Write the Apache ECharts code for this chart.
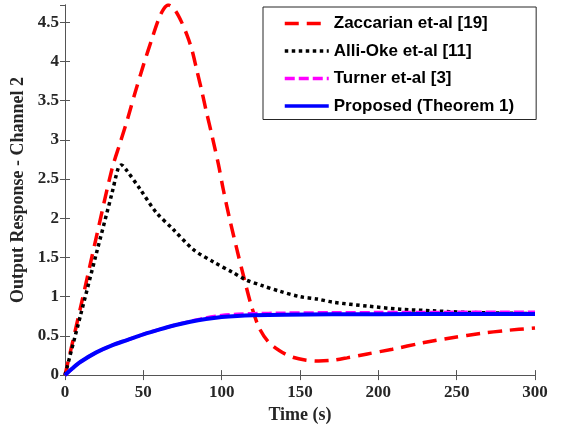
<!DOCTYPE html>
<html style="height: 100%">
<head>
    <meta charset="utf-8">
    <title>Output Response - Channel 2</title>
</head>
<body style="height: 100%; margin: 0;">
    <div id="container" style="width: 562px; height: 429px;"></div>
    <script src="https://cdn.jsdelivr.net/npm/echarts@6/dist/echarts.min.js"></script>
    <script type="text/javascript">
        // legend names
        var names = ['Zaccarian et-al [19]', 'Alli-Oke et-al [11]', 'Turner et-al [3]', 'Proposed (Theorem 1)'];

        // Zaccarian et-al (red dashed)
        var zacT = [0, 10, 20, 30, 35, 40, 45, 50, 56, 60, 63, 66, 70, 74, 78, 81, 84, 87, 90, 94, 98, 101, 105, 110, 114, 119, 124, 130, 137, 145, 154, 162, 171, 180, 193, 209, 228, 248, 265, 282, 300];
        var zacV = [0, 0.87, 1.76, 2.63, 2.95, 3.27, 3.62, 3.95, 4.32, 4.55, 4.67, 4.72, 4.66, 4.52, 4.33, 4.15, 3.9, 3.65, 3.38, 3.04, 2.68, 2.37, 2.0, 1.58, 1.26, 0.88, 0.6, 0.42, 0.31, 0.23, 0.19, 0.18, 0.19, 0.22, 0.27, 0.33, 0.41, 0.48, 0.53, 0.57, 0.6];

        // Alli-Oke et-al (black dotted)
        var alliT = [0, 10, 20, 30, 34, 36, 39, 48, 58, 69, 82, 95, 107, 115, 126, 137, 150, 161, 171, 193, 214, 235, 256, 280, 300];
        var alliV = [0, 0.77, 1.55, 2.32, 2.64, 2.68, 2.62, 2.37, 2.08, 1.86, 1.6, 1.44, 1.31, 1.22, 1.14, 1.07, 1.0, 0.97, 0.93, 0.88, 0.84, 0.82, 0.80, 0.79, 0.785];

        // Turner et-al (magenta dash-dot)
        var turT = [0, 5, 10, 20, 30, 40, 50, 60, 70, 80, 90, 100, 110, 120, 140, 170, 200, 250, 300];
        var turV = [0, 0.09, 0.17, 0.29, 0.38, 0.45, 0.52, 0.58, 0.635, 0.685, 0.73, 0.76, 0.775, 0.783, 0.79, 0.795, 0.797, 0.80, 0.80];

        // Proposed (blue solid)
        var propT = [0, 5, 10, 20, 30, 40, 50, 60, 70, 80, 90, 100, 110, 120, 140, 170, 200, 250, 300];
        var propV = [0, 0.09, 0.17, 0.29, 0.38, 0.45, 0.52, 0.58, 0.635, 0.68, 0.715, 0.74, 0.755, 0.763, 0.77, 0.775, 0.777, 0.78, 0.78];

        function pairs(t, v) {
            var out = [];
            for (var i = 0; i < t.length; i++) out.push([t[i], v[i]]);
            return out;
        }

        var axisColor = '#555';
        var labelFont = { fontFamily: 'Liberation Serif', fontWeight: 'bold', fontSize: 17, color: '#262626' };

        var dom = document.getElementById("container");
        var myChart = echarts.init(dom);
        var option = {
            backgroundColor: '#fff',
            animation: false,
            grid: { left: 65, right: 27, top: 5, bottom: 53 },
            legend: {
                orient: 'vertical',
                left: 263,
                top: 7,
                padding: [8, 22, 5, 20],
                itemWidth: 44,
                itemHeight: 17,
                itemGap: 10.5,
                backgroundColor: '#fff',
                borderColor: '#262626',
                borderWidth: 1,
                itemStyle: { opacity: 0 },
                lineStyle: { width: 3.5 },
                textStyle: { fontFamily: 'Liberation Sans', fontWeight: 'bold', fontSize: 17, color: '#000' },
                data: names
            },
            xAxis: [{
                type: 'value', min: 0, max: 300, interval: 50,
                name: 'Time (s)', nameLocation: 'middle', nameGap: 27,
                nameTextStyle: { fontFamily: 'Liberation Serif', fontWeight: 'bold', fontSize: 18, color: '#262626' },
                axisLine: { lineStyle: { color: axisColor, width: 1 } },
                axisTick: { inside: true, length: 5, lineStyle: { color: axisColor } },
                axisLabel: Object.assign({ margin: 9 }, labelFont),
                splitLine: { show: false }
            }, {
                type: 'value', min: 0, max: 300, interval: 50, position: 'top',
                axisLine: { show: true, lineStyle: { color: axisColor, width: 1 } },
                axisTick: { inside: true, length: 5, lineStyle: { color: axisColor } },
                axisLabel: { show: false },
                splitLine: { show: false }
            }],
            yAxis: [{
                type: 'value', min: 0, max: 4.72, interval: 0.5,
                name: 'Output Response - Channel 2', nameLocation: 'middle', nameGap: 36,
                nameTextStyle: { fontFamily: 'Liberation Serif', fontWeight: 'bold', fontSize: 18, color: '#262626' },
                axisLine: { show: true, lineStyle: { color: axisColor, width: 1 } },
                axisTick: { inside: true, length: 5, lineStyle: { color: axisColor } },
                axisLabel: Object.assign({ margin: 6, showMaxLabel: false }, labelFont),
                splitLine: { show: false }
            }, {
                type: 'value', min: 0, max: 4.72, interval: 0.5, position: 'right',
                axisLine: { show: true, lineStyle: { color: axisColor, width: 1 } },
                axisTick: { inside: true, length: 5, lineStyle: { color: axisColor } },
                axisLabel: { show: false },
                splitLine: { show: false }
            }],
            series: [{
                name: names[0], type: 'line', symbol: 'none', smooth: 0.3,
                data: pairs(zacT, zacV),
                lineStyle: { color: '#ff0000', width: 3.5, type: [14, 8] },
                itemStyle: { color: '#ff0000' }
            }, {
                name: names[1], type: 'line', symbol: 'none', smooth: 0.3,
                data: pairs(alliT, alliV),
                lineStyle: { color: '#000', width: 3.5, type: [3.5, 3.5] },
                itemStyle: { color: '#000' }
            }, {
                name: names[2], type: 'line', symbol: 'none', smooth: 0.3,
                data: pairs(turT, turV),
                lineStyle: { color: '#ff00ff', width: 3.5, type: [10, 4] },
                itemStyle: { color: '#ff00ff' }
            }, {
                name: names[3], type: 'line', symbol: 'none', smooth: 0.3,
                data: pairs(propT, propV),
                lineStyle: { color: '#0000ff', width: 4 },
                itemStyle: { color: '#0000ff' }
            }]
        };
        myChart.setOption(option);
    </script>
</body>
</html>
